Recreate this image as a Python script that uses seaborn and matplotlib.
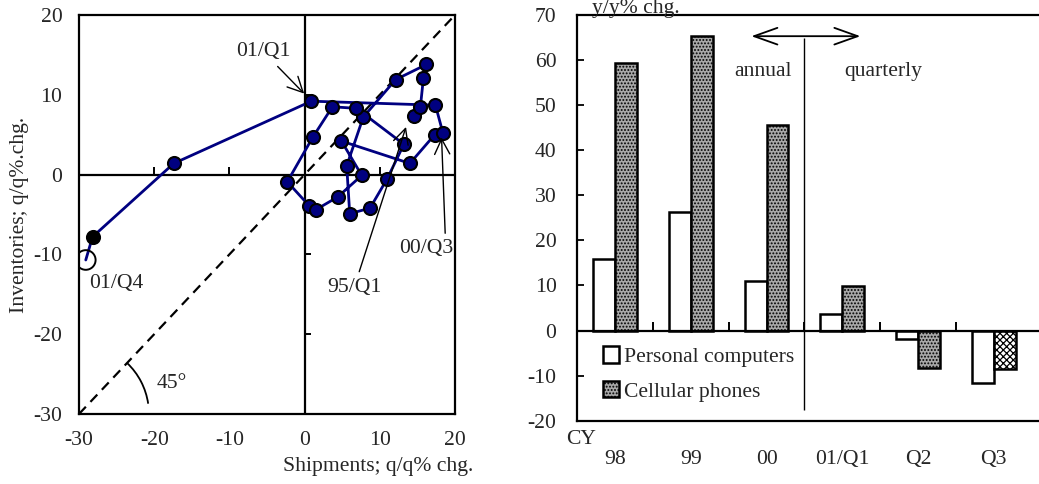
import numpy as np
import pandas as pd
import matplotlib
matplotlib.use("Agg")
import matplotlib.pyplot as plt
from matplotlib.patches import Arc, Patch
import seaborn as sns

# ---------------- data ----------------
quarters = ['95Q1', '95Q2', '95Q3', '95Q4', '96Q1', '96Q2', '96Q3', '96Q4',
            '97Q1', '97Q2', '97Q3', '97Q4', '98Q1', '98Q2', '98Q3', '98Q4',
            '99Q1', '99Q2', '99Q3', '99Q4', '00Q1', '00Q2', '00Q3', '00Q4',
            '01Q1', '01Q2', '01Q3', '01Q4']
shipments = [14.6, 15.4, 15.8, 16.2, 12.1, 7.8, 5.6, 6.0,
             8.7, 11.0, 13.2, 6.9, 3.7, 1.1, -2.3, 0.6,
             1.5, 4.4, 7.6, 4.9, 14.0, 17.3, 18.4, 17.4,
             0.9, -17.4, -28.2, -29.1]
inventories = [7.3, 8.5, 12.1, 13.8, 11.9, 7.2, 1.1, -4.9,
               -4.2, -0.5, 3.8, 8.3, 8.5, 4.7, -0.9, -3.9,
               -4.4, -2.8, -0.1, 4.2, 1.4, 5.0, 5.2, 8.7,
               9.2, 1.4, -7.8, -10.7]

periods = ['98', '99', '00', '01/Q1', 'Q2', 'Q3']
pc = [15.8, 26.2, 11.0, 3.7, -1.9, -11.6]
cell = [59.3, 65.3, 45.6, 9.9, -8.4, -8.5]
series_names = ['Personal computers', 'Cellular phones']

left_xticks = [-30, -20, -10, 0, 10, 20]
left_yticks = [-30, -20, -10, 0, 10, 20]
right_yticks = [-20, -10, 0, 10, 20, 30, 40, 50, 60, 70]

# ---------------- style ----------------
sns.set_theme(style="white")
plt.rcParams['font.family'] = ['Liberation Serif', 'DejaVu Serif']
plt.rcParams['hatch.linewidth'] = 0.9
FS = 15.6
NAVY = '#000080'
GRAY = '#a8a8a8'

fig = plt.figure(figsize=(10.39, 4.84), dpi=100)
W, H = 1039, 484

# ================= left panel =================
ax1 = fig.add_axes([79 / W, 70 / H, 376 / W, 399 / H])
df_path = pd.DataFrame({'quarter': quarters, 'ship': shipments, 'inv': inventories})

sns.lineplot(data=df_path, x='ship', y='inv', sort=False, estimator=None,
             color=NAVY, lw=2.0, ax=ax1, zorder=3)
main = df_path.iloc[:-2]
sns.scatterplot(data=main, x='ship', y='inv', color=NAVY, edgecolor='black',
                linewidth=1.5, s=88, ax=ax1, zorder=4, legend=False)
sns.scatterplot(data=df_path.iloc[-2:-1], x='ship', y='inv', color='black',
                edgecolor='black', linewidth=1.5, s=88, ax=ax1, zorder=4, legend=False)
sns.scatterplot(data=df_path.iloc[-1:], x='ship', y='inv', facecolor='none',
                edgecolor='black', linewidth=1.4, s=200, ax=ax1, zorder=4, legend=False)

ax1.set_xlim(-30, 20)
ax1.set_ylim(-30, 20)
ax1.axline((0, 0), slope=1, color='black', lw=1.6, ls=(0, (4.5, 3)), zorder=2)
ax1.axhline(0, color='black', lw=1.6, zorder=2)
ax1.axvline(0, color='black', lw=1.6, zorder=2)
# internal tick marks on the crossing axes
xt_in = [t for t in left_xticks if t not in (0, -30, 20)]
yt_in = [t for t in left_yticks if t not in (0, -30, 20)]
ax1.vlines(xt_in, 0, 0.9, color='black', lw=1.4, zorder=2)
ax1.hlines(yt_in, 0, 0.9, color='black', lw=1.4, zorder=2)

ax1.set_xticks(left_xticks)
ax1.set_yticks(left_yticks)
ax1.set_xticklabels([str(t) for t in left_xticks], fontsize=FS)
ax1.set_yticklabels([str(t) for t in left_yticks], fontsize=FS)
ax1.tick_params(axis='x', length=0, pad=12)
ax1.tick_params(axis='y', length=0, pad=12)
ax1.set_xlabel('')
ax1.set_ylabel('')
for sp in ax1.spines.values():
    sp.set_visible(True)
    sp.set_color('black')
    sp.set_linewidth(1.6)

arrow_kw = dict(arrowstyle='->,head_length=0.7,head_width=0.35', color='black', lw=1.0)
ax1.annotate('01/Q1', xy=(0.2, 9.9), xytext=(-5.5, 15.4), fontsize=FS,
             ha='center', va='center', arrowprops=arrow_kw, zorder=5)
ax1.annotate('95/Q1', xy=(13.6, 6.3), xytext=(6.6, -14.1), fontsize=FS,
             ha='center', va='center', arrowprops=arrow_kw, zorder=5)
ax1.annotate('00/Q3', xy=(18.2, 5.0), xytext=(16.2, -9.3), fontsize=FS,
             ha='center', va='center', zorder=5, annotation_clip=False,
             arrowprops=dict(arrow_kw, relpos=(0.85, 1.0)))
ax1.text(-25.0, -13.7, '01/Q4', fontsize=FS, ha='center', va='center')
ax1.add_patch(Arc((-30, -30), 18.6, 17.6, theta1=8, theta2=45, color='black', lw=1.3))
ax1.text(-17.7, -26.2, '45°', fontsize=FS, ha='center', va='center')

fig.text(20 / W, 1 - 214.5 / H, 'Inventories; q/q%.chg.', rotation=90,
         fontsize=FS, ha='center', va='center')
fig.text(473 / W, 1 - 467 / H, 'Shipments; q/q% chg.', fontsize=FS,
         ha='right', va='center')

# ================= right panel =================
ax2 = fig.add_axes([577.3 / W, 63.3 / H, 461.7 / W, 405.7 / H])
df_bar = pd.DataFrame({
    'period': periods * 2,
    'series': [series_names[0]] * len(periods) + [series_names[1]] * len(periods),
    'value': pc + cell,
})
pal = {series_names[0]: 'white', series_names[1]: GRAY}
sns.barplot(data=df_bar, x='period', y='value', hue='series', order=periods,
            hue_order=series_names, palette=pal, edgecolor='black', linewidth=1.8,
            width=0.58, saturation=1, ax=ax2, legend=False, zorder=3)

for i, bar in enumerate(ax2.containers[1]):
    if i == len(periods) - 1:
        bar.set_facecolor('white')
        bar.set_hatch('xxxxx')
    else:
        bar.set_hatch('.....')

ax2.set_ylim(-20, 70)
ax2.set_xlim(-0.5, 5.6)
ax2.set_yticks(right_yticks)
ax2.set_yticklabels([str(t) for t in right_yticks], fontsize=FS)
ax2.set_xticks(range(len(periods)))
ax2.set_xticklabels(periods, fontsize=FS)
ax2.tick_params(axis='x', length=0, pad=21)
ax2.tick_params(axis='y', direction='in', length=5, width=1.3, pad=15, left=True, color='black')
ax2.set_xlabel('')
ax2.set_ylabel('')
for name, sp in ax2.spines.items():
    sp.set_visible(name != 'right')
    sp.set_color('black')
    sp.set_linewidth(1.6)

ax2.axhline(0, color='black', lw=1.6, zorder=4)
bounds = [i + 0.5 for i in range(len(periods) - 1)]
ax2.vlines(bounds, 0, 1.8, color='black', lw=1.4, zorder=4)
ax2.vlines(2.5, -17.6, 64.9, color='black', lw=1.0, zorder=4)
ax2.annotate('', xy=(1.80, 65.3), xytext=(3.24, 65.3),
             arrowprops=dict(arrowstyle='<->,head_length=1.4,head_width=0.5',
                             color='black', lw=1.3, shrinkA=0, shrinkB=0))
ax2.text(1.957, 57.4, 'annual', fontsize=FS, ha='center', va='center')
ax2.text(3.54, 57.4, 'quarterly', fontsize=FS, ha='center', va='center')

handles = [Patch(facecolor='white', edgecolor='black', linewidth=1.8),
           Patch(facecolor=GRAY, edgecolor='black', linewidth=1.8, hatch='.....')]
ax2.legend(handles, series_names, loc='upper left', bbox_to_anchor=(0.056, 0.183),
           frameon=False, fontsize=FS, handlelength=0.72, handleheight=0.8,
           handletextpad=0.25, labelspacing=0.62, borderpad=0, borderaxespad=0)

fig.text(591.7 / W, 1 - 13 / H, 'y/y% chg.', fontsize=FS, ha='left', va='baseline')
fig.text(581 / W, 1 - 440 / H, 'CY', fontsize=FS, ha='center', va='center')

fig.savefig('out.png', dpi=100)
